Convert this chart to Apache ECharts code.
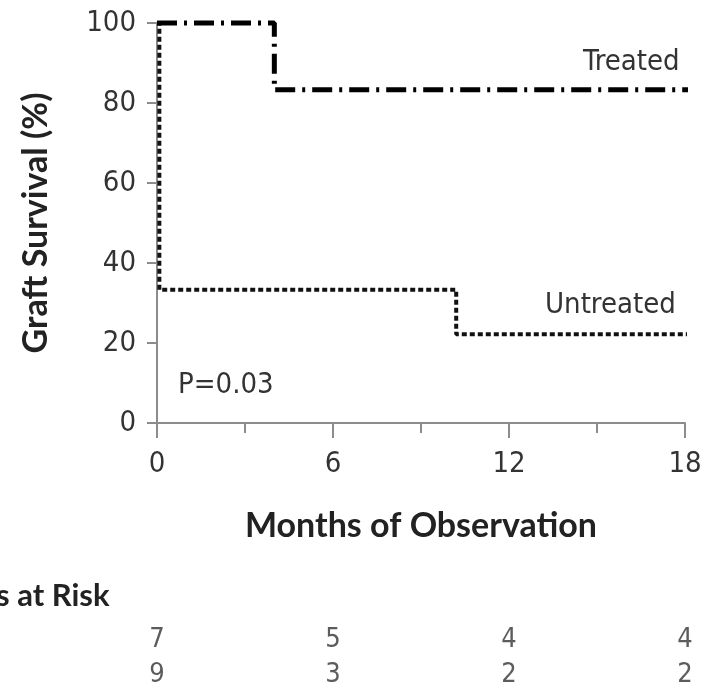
<!DOCTYPE html>
<html>
<head>
<meta charset="utf-8">
<script src="https://cdn.jsdelivr.net/npm/echarts@6/dist/echarts.min.js"></script>
<style>
html,body{margin:0;padding:0;background:#fff;}
#chart{width:715px;height:697px;}
</style>
</head>
<body>
<div id="chart"></div>
<script>
// ---- data ----
const treatedTimes = [0, 4, 18.2];
const treatedSurvival = [100, 83.3, 83.3];
const untreatedTimes = [0, 0.08, 10.2, 18.2];
const untreatedSurvival = [100, 33.3, 22.2, 22.2];
const riskMonths = [0, 6, 12, 18];
const riskTreated = [7, 5, 4, 4];
const riskUntreated = [9, 3, 2, 2];
const groupNames = ['Untreated', 'Treated'];
const pValueText = 'P=0.03';

const narrow = '"Liberation Sans Narrow", "DejaVu Sans Condensed", sans-serif';
const boldFont = 'Lato, "Open Sans", sans-serif';
const axisGray = '#8c8c8c';

const treatedData = treatedTimes.map((t, i) => [t, treatedSurvival[i]]);
const untreatedData = untreatedTimes.map((t, i) => [t, untreatedSurvival[i]]);
const riskData = [];
riskMonths.forEach((m, i) => {
  riskData.push([m, 'Treated', riskTreated[i]]);
  riskData.push([m, 'Untreated', riskUntreated[i]]);
});

const chart = echarts.init(document.getElementById('chart'));
chart.setOption({
  backgroundColor: '#ffffff',
  animation: false,
  grid: [
    { left: 157, right: 30, top: 23, bottom: 274, containLabel: false },
    { left: 157, right: 30, top: 622, height: 70, containLabel: false }
  ],
  xAxis: [
    {
      type: 'value', gridIndex: 0, min: 0, max: 18, interval: 6,
      name: 'Months of Observation', nameLocation: 'middle', nameGap: 86,
      nameTextStyle: { fontFamily: boldFont, fontWeight: 'bold', fontSize: 34, color: '#222' },
      axisLine: { show: true, lineStyle: { color: axisGray, width: 2 } },
      axisTick: { show: true, length: 15, lineStyle: { color: axisGray, width: 2 } },
      minorTick: { show: true, splitNumber: 2, length: 10, lineStyle: { color: axisGray, width: 2 } },
      splitLine: { show: false },
      minorSplitLine: { show: false },
      axisLabel: { margin: 27, fontFamily: narrow, fontSize: 29, color: '#333' }
    },
    { type: 'value', gridIndex: 1, min: 0, max: 18, show: false }
  ],
  yAxis: [
    {
      type: 'value', gridIndex: 0, min: 0, max: 100, interval: 20,
      name: 'Graft Survival (%)', nameLocation: 'middle', nameGap: 104, nameRotate: 90,
      nameTextStyle: { fontFamily: boldFont, fontWeight: 'bold', fontSize: 34, color: '#222' },
      axisLine: { show: true, lineStyle: { color: axisGray, width: 2 } },
      axisTick: { show: true, length: 10, lineStyle: { color: axisGray, width: 2 } },
      splitLine: { show: false },
      axisLabel: { margin: 21, fontFamily: narrow, fontSize: 29, color: '#333' }
    },
    { type: 'category', gridIndex: 1, data: groupNames, show: false }
  ],
  series: [
    {
      name: 'Treated', type: 'line', step: 'end', xAxisIndex: 0, yAxisIndex: 0,
      data: treatedData, symbol: 'none', clip: false,
      lineStyle: { color: '#000', width: 5, type: [20, 7, 3, 7] },
      z: 3
    },
    {
      name: 'Untreated', type: 'line', step: 'end', xAxisIndex: 0, yAxisIndex: 0,
      data: untreatedData, symbol: 'none', clip: false,
      lineStyle: { color: '#111', width: 4, type: [5, 3] },
      z: 2
    },
    {
      name: 'At risk', type: 'scatter', xAxisIndex: 1, yAxisIndex: 1,
      data: riskData, symbolSize: 0,
      label: {
        show: true, position: 'inside',
        formatter: p => String(p.value[2]),
        fontFamily: narrow, fontSize: 27, color: '#333'
      }
    }
  ],
  graphic: [
    { type: 'text', left: 583, top: 48, style: { text: groupNames[1], font: '29px ' + narrow, fill: '#333' } },
    { type: 'text', left: 545, top: 291, style: { text: groupNames[0], font: '29px ' + narrow, fill: '#333' } },
    { type: 'text', left: 178, top: 371, style: { text: pValueText, font: '29px ' + narrow, fill: '#333' } },
    { type: 'text', left: -4, top: 580, style: { text: 's at Risk', font: 'bold 31px ' + boldFont, fill: '#222' } }
  ]
});
</script>
</body>
</html>
